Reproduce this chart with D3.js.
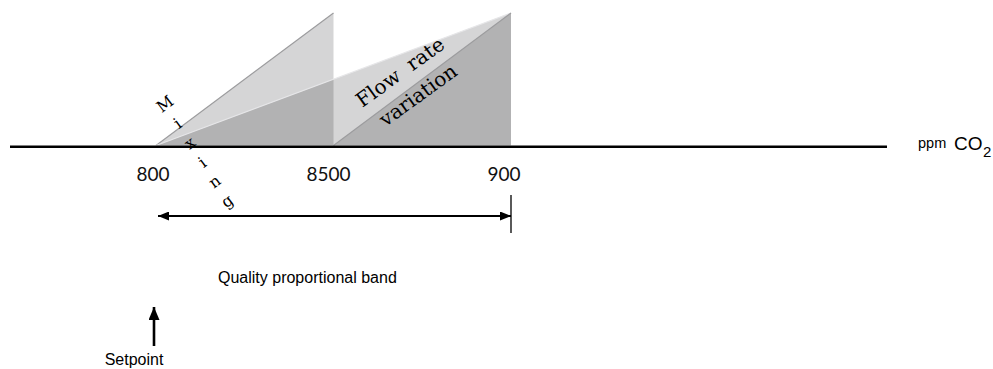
<!DOCTYPE html>
<html>
<head>
<meta charset="utf-8">
<script src="https://cdn.jsdelivr.net/npm/d3@7"></script>
<style>
  html, body { margin: 0; padding: 0; background: #fff; }
  svg { display: block; }
</style>
</head>
<body>
<svg id="chart" width="993" height="369"></svg>
<script>
// ---- data ----
const axisDomain = [800, 900];                 // ppm CO2
const tickValues = [800, 850, 900];
const tickLabels = ["800", "8500", "900"];
// triangles: [start, apex/end] in ppm, apex height normalised to 1
const triangleNames = ["mixing", "flowLong", "flowShort"];
const triangleStarts = [800, 800, 850];
const triangleEnds = [850, 900, 900];
const bandRange = [800, 900];
const setpointValue = 800;
const mixingLetters = ["M", "i", "x", "i", "n", "g"];
const flowLines = ["Flow\u00a0\u00a0rate", "variation"];
const axisUnit = ["ppm", "CO", "2"];
const bandLabel = "Quality proportional band";
const setpointLabel = "Setpoint";

// ---- scales ----
const svg = d3.select("#chart");
const x = d3.scaleLinear().domain(axisDomain).range([156, 511]);
const xLab = d3.scaleLinear().domain(axisDomain).range([153, 504]);
const y = d3.scaleLinear().domain([0, 1]).range([145.5, 13]);

const defs = svg.append("defs");
function arrowMarker(id, w, l) {
  defs.append("marker").attr("id", id)
    .attr("viewBox", `0 0 ${l} ${w}`).attr("refX", l).attr("refY", w / 2)
    .attr("markerUnits", "userSpaceOnUse")
    .attr("markerWidth", l).attr("markerHeight", w)
    .attr("orient", "auto-start-reverse")
    .append("path").attr("d", `M0,0L${l},${w/2}L0,${w}Z`).attr("fill", "#000");
}
arrowMarker("ah", 9, 11);
arrowMarker("ahs", 11, 13);

// ---- triangles ----
const tris = triangleNames.map((n, i) => ({ name: n, s: triangleStarts[i], e: triangleEnds[i] }));
svg.append("g").selectAll("path.tri").data(tris).join("path")
  .attr("class", "tri")
  .attr("d", d => `M${x(d.s)},${y(0)}L${x(d.e)},${y(1)}L${x(d.e)},${y(0)}Z`)
  .attr("fill", "rgb(0,0,8)")
  .attr("fill-opacity", 0.165);
// hypotenuse edges
svg.append("g").selectAll("line.edge").data(tris).join("line")
  .attr("x1", d => x(d.s)).attr("y1", y(0))
  .attr("x2", d => x(d.e)).attr("y2", y(1))
  .attr("stroke", d => d.name === "flowLong" ? "#e6e6e8" : "#9c9c9e")
  .attr("stroke-width", 1.2);

// ---- axis line ----
svg.append("line")
  .attr("x1", 10).attr("x2", 887)
  .attr("y1", 146.8).attr("y2", 146.8)
  .attr("stroke", "#000").attr("stroke-width", 2.6);

// tick labels
svg.append("g").selectAll("text").data(tickValues).join("text")
  .attr("x", d => xLab(d)).attr("y", 181)
  .attr("text-anchor", "middle")
  .attr("font-family", "Lato, 'Open Sans', sans-serif")
  .attr("font-size", 19)
  .attr("fill", "#111")
  .text((d, i) => tickLabels[i]);

// unit label
const unit = svg.append("text").attr("font-family", "'Liberation Sans', Arial, sans-serif").attr("fill", "#000");
unit.append("tspan").attr("x", 918).attr("y", 148).attr("font-size", 14.5).text(axisUnit[0]);
unit.append("tspan").attr("x", 954).attr("y", 150).attr("font-size", 19).text(axisUnit[1]);
unit.append("tspan").attr("x", 983).attr("y", 157).attr("font-size", 15).text(axisUnit[2]);

// ---- Mixing letters ----
const mixStart = [165, 104], mixStep = [12.4, 19.4];
svg.append("g").selectAll("text").data(mixingLetters).join("text")
  .attr("transform", (d, i) => `translate(${mixStart[0] + i * mixStep[0]},${mixStart[1] + i * mixStep[1]}) rotate(-37)`)
  .attr("text-anchor", "middle")
  .attr("dominant-baseline", "central")
  .attr("font-family", "'DejaVu Serif', serif")
  .attr("font-size", 16)
  .attr("fill", "#000")
  .text(d => d);

// ---- Flow rate variation ----
const flowPos = [[400, 72], [418, 95]];
svg.append("g").selectAll("text").data(flowLines).join("text")
  .attr("transform", (d, i) => `translate(${flowPos[i][0]},${flowPos[i][1]}) rotate(-36)`)
  .attr("text-anchor", "middle")
  .attr("dominant-baseline", "central")
  .attr("font-family", "'DejaVu Serif', serif")
  .attr("font-size", 20)
  .attr("fill", "#000")
  .text(d => d);

// ---- band arrow ----
svg.append("line")
  .attr("x1", x(bandRange[0]) + 2).attr("x2", x(bandRange[1]))
  .attr("y1", 216).attr("y2", 216)
  .attr("stroke", "#000").attr("stroke-width", 2.2)
  .attr("marker-start", "url(#ah)").attr("marker-end", "url(#ah)");
svg.append("line")
  .attr("x1", x(bandRange[1])).attr("x2", x(bandRange[1]))
  .attr("y1", 195).attr("y2", 233)
  .attr("stroke", "#000").attr("stroke-width", 1.3);
svg.append("text")
  .attr("x", 218).attr("y", 283)
  .attr("font-family", "'Liberation Sans', Arial, sans-serif")
  .attr("font-size", 16).attr("fill", "#000")
  .text(bandLabel);

// ---- setpoint arrow ----
svg.append("line")
  .attr("x1", x(setpointValue) - 2).attr("x2", x(setpointValue) - 2)
  .attr("y1", 346).attr("y2", 307)
  .attr("stroke", "#000").attr("stroke-width", 2.6)
  .attr("marker-end", "url(#ahs)");
svg.append("text")
  .attr("x", 134).attr("y", 365)
  .attr("text-anchor", "middle")
  .attr("font-family", "'Liberation Sans', Arial, sans-serif")
  .attr("font-size", 16).attr("fill", "#000")
  .text(setpointLabel);
</script>
</body>
</html>
